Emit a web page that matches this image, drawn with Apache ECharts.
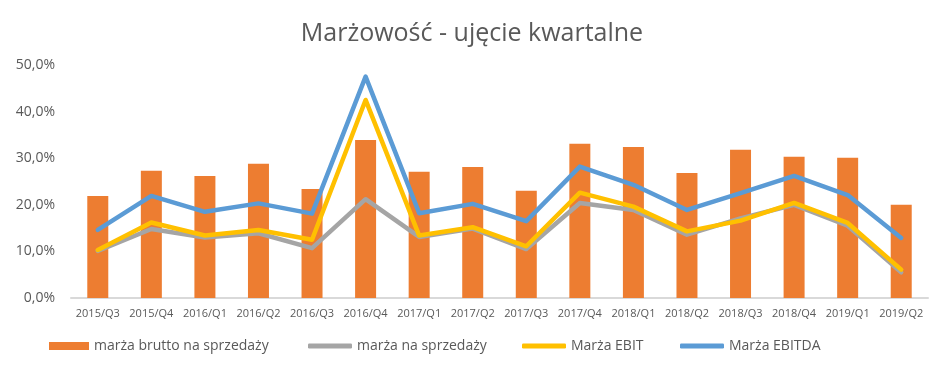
<!DOCTYPE html>
<html>
<head>
<meta charset="utf-8">
<script src="https://cdn.jsdelivr.net/npm/echarts@6/dist/echarts.min.js"></script>
<style>html,body{margin:0;padding:0;background:#fff}#c{width:944px;height:371px}</style>
</head>
<body>
<div id="c"></div>
<script>
var categories = ['2015/Q3','2015/Q4','2016/Q1','2016/Q2','2016/Q3','2016/Q4','2017/Q1','2017/Q2','2017/Q3','2017/Q4','2018/Q1','2018/Q2','2018/Q3','2018/Q4','2019/Q1','2019/Q2'];
var brutto = [21.9,27.3,26.2,28.8,23.4,33.9,27.1,28.1,23.0,33.1,32.4,26.8,31.8,30.3,30.1,20.0];
var naSprzedazy = [10.1,14.8,13.0,13.9,10.7,21.2,13.1,14.9,10.5,20.4,18.9,13.6,17.1,20.0,15.5,5.5];
var ebit = [10.3,16.2,13.4,14.6,12.5,42.5,13.4,15.2,11.1,22.6,19.6,14.3,16.6,20.4,16.1,6.1];
var ebitda = [14.6,21.9,18.5,20.3,18.1,47.5,18.2,20.2,16.5,28.2,24.3,18.9,22.5,26.2,22.1,12.9];
var yTicks = [0,10,20,30,40,50];

var names = ['marża brutto na sprzedaży','marża na sprzedaży','Marża EBIT','Marża EBITDA'];
var colors = ['#ED7D31','#A5A5A5','#FFC000','#5B9BD5'];
var font = 'Open Sans';
var txt = '#595959';

var chart = echarts.init(document.getElementById('c'));
function leg(name, left, isBar) {
  return {
    data: [isBar ? {name: name, icon: 'rect'} : {name: name, icon: 'roundRect'}],
    left: left, top: 334, itemWidth: isBar ? 40 : 44, itemHeight: isBar ? 8 : 5, itemGap: 0,
    selectedMode: false,
    textStyle: {color: txt, fontFamily: font, fontSize: 14}
  };
}
chart.setOption({
  animation: false,
  title: {text: 'Marżowość - ujęcie kwartalne', left: 'center', top: 16,
    textStyle: {color: txt, fontFamily: font, fontSize: 25, fontWeight: 'normal'}},
  legend: [leg(names[0], 44, true), leg(names[1], 303, false), leg(names[2], 517, false), leg(names[3], 675, false)],
  grid: {left: 71, right: 16, top: 65, bottom: 73},
  xAxis: {type: 'category', data: categories,
    axisLine: {lineStyle: {color: '#D9D9D9', width: 2}},
    axisTick: {show: false},
    axisLabel: {color: txt, fontFamily: font, fontSize: 11, margin: 10, interval: 0}},
  yAxis: {type: 'value', min: yTicks[0], max: yTicks[yTicks.length-1], interval: 10,
    axisLine: {show: false}, axisTick: {show: false}, splitLine: {show: false},
    axisLabel: {color: txt, fontFamily: font, fontSize: 14, margin: 16,
      formatter: function(v){ return v.toFixed(1).replace('.', ',') + '%'; }}},
  series: [
    {name: names[0], type: 'bar', data: brutto, barWidth: 21, itemStyle: {color: colors[0]}},
    {name: names[1], type: 'line', data: naSprzedazy, symbol: 'none', lineStyle: {color: colors[1], width: 4.5, cap: 'round', join: 'round'}, itemStyle: {color: colors[1]}},
    {name: names[2], type: 'line', data: ebit, symbol: 'none', lineStyle: {color: colors[2], width: 4.5, cap: 'round', join: 'round'}, itemStyle: {color: colors[2]}},
    {name: names[3], type: 'line', data: ebitda, symbol: 'none', lineStyle: {color: colors[3], width: 4.5, cap: 'round', join: 'round'}, itemStyle: {color: colors[3]}}
  ]
});
</script>
</body>
</html>
